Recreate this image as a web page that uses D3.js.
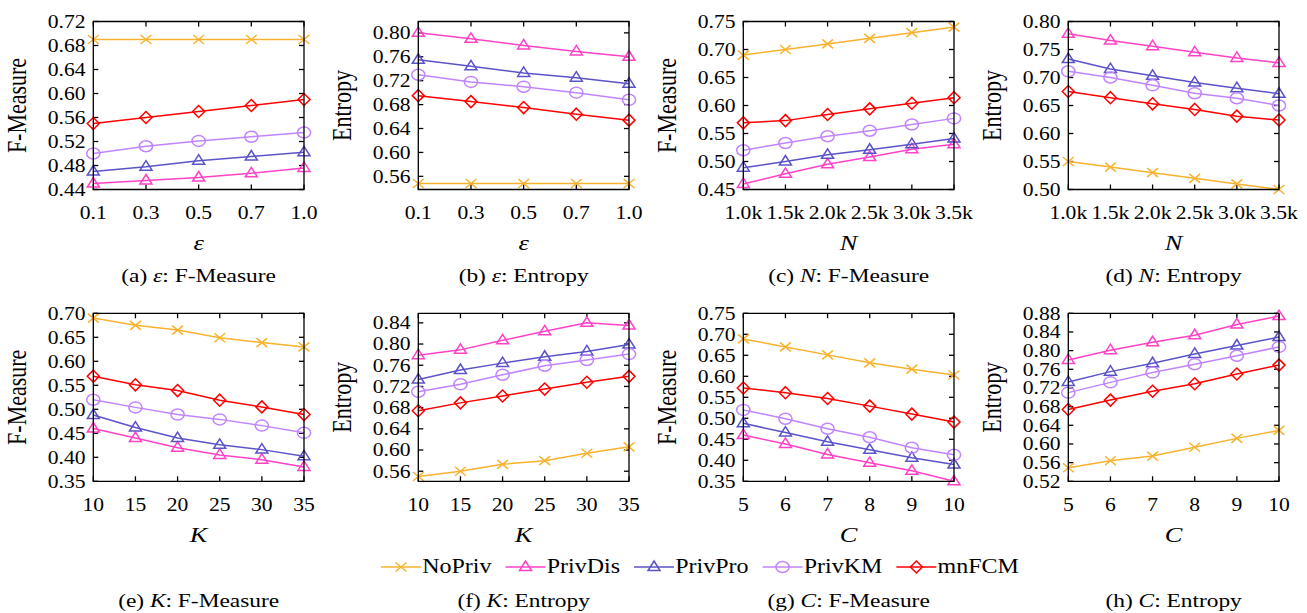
<!DOCTYPE html>
<html lang="en">
<head>
<meta charset="UTF-8">
<title>F-Measure / Entropy</title>
<style>
  body { margin: 0; background: #fff; }
  svg { display: block; }
  text { font-family: "Liberation Serif", "Times New Roman", serif; fill: #000; }
  .frame, .tick { fill: none; stroke: #000; stroke-width: 1.3; vector-effect: non-scaling-stroke; }
  .series, .mark { fill: none; stroke-width: 1.5; vector-effect: non-scaling-stroke; }
</style>
</head>
<body>
<script src="https://d3js.org/d3.v7.min.js"></script>
<script>
const width = 1307, height = 613;
// the original figure is stretched sideways, so draw in a narrower box and stretch it
const stretch = 1.2;
const innerW = width / stretch;

const seriesNames = ["NoPriv", "PrivDis", "PrivPro", "PrivKM", "mnFCM"];
const seriesColors = ["#f9b22e", "#ff42c6", "#5b53c8", "#c184ff", "#ff0000"];
const seriesMarks = ["cross", "triangle", "triangle", "circle", "diamond"];

// x categories
const epsCats = ["0.1", "0.3", "0.5", "0.7", "1.0"];
const nCats = ["1.0k", "1.5k", "2.0k", "2.5k", "3.0k", "3.5k"];
const kCats = ["10", "15", "20", "25", "30", "35"];
const cCats = ["5", "6", "7", "8", "9", "10"];

// y tick labels
const ticksA = [0.44, 0.48, 0.52, 0.56, 0.60, 0.64, 0.68, 0.72];
const ticksB = [0.56, 0.60, 0.64, 0.68, 0.72, 0.76, 0.80];
const ticksC = [0.45, 0.50, 0.55, 0.60, 0.65, 0.70, 0.75];
const ticksD = [0.50, 0.55, 0.60, 0.65, 0.70, 0.75, 0.80];
const ticksE = [0.35, 0.40, 0.45, 0.50, 0.55, 0.60, 0.65, 0.70];
const ticksF = [0.56, 0.60, 0.64, 0.68, 0.72, 0.76, 0.80, 0.84];
const ticksG = [0.35, 0.40, 0.45, 0.50, 0.55, 0.60, 0.65, 0.70, 0.75];
const ticksH = [0.52, 0.56, 0.60, 0.64, 0.68, 0.72, 0.76, 0.80, 0.84, 0.88];

// rows: NoPriv, PrivDis, PrivPro, PrivKM, mnFCM
const epsFMeasure = [
  [0.69, 0.69, 0.69, 0.69, 0.69],
  [0.45, 0.455, 0.46, 0.467, 0.476],
  [0.47, 0.478, 0.488, 0.495, 0.502],
  [0.50, 0.512, 0.521, 0.528, 0.535],
  [0.55, 0.56, 0.57, 0.58, 0.59]
];
const epsEntropy = [
  [0.548, 0.548, 0.548, 0.548, 0.548],
  [0.80, 0.79, 0.779, 0.769, 0.76],
  [0.755, 0.744, 0.733, 0.725, 0.715],
  [0.73, 0.718, 0.71, 0.70, 0.688],
  [0.695, 0.685, 0.675, 0.664, 0.654]
];
const nFMeasure = [
  [0.69, 0.70, 0.71, 0.72, 0.73, 0.74],
  [0.46, 0.478, 0.495, 0.508, 0.522, 0.531],
  [0.489, 0.50, 0.512, 0.521, 0.531, 0.541],
  [0.52, 0.533, 0.545, 0.555, 0.566, 0.577],
  [0.569, 0.573, 0.584, 0.594, 0.604, 0.614]
];
const nEntropy = [
  [0.55, 0.54, 0.53, 0.52, 0.51, 0.50],
  [0.778, 0.766, 0.756, 0.745, 0.735, 0.726],
  [0.733, 0.715, 0.703, 0.691, 0.681, 0.671],
  [0.711, 0.70, 0.686, 0.672, 0.663, 0.65],
  [0.675, 0.664, 0.653, 0.643, 0.631, 0.624]
];
const kFMeasure = [
  [0.69, 0.675, 0.665, 0.649, 0.639, 0.63],
  [0.46, 0.44, 0.42, 0.405, 0.395, 0.38],
  [0.488, 0.462, 0.44, 0.426, 0.416, 0.402],
  [0.52, 0.504, 0.489, 0.479, 0.466, 0.451],
  [0.569, 0.551, 0.539, 0.519, 0.505, 0.489]
];
const kEntropy = [
  [0.55, 0.56, 0.573, 0.58, 0.594, 0.606],
  [0.779, 0.789, 0.807, 0.824, 0.84, 0.835],
  [0.733, 0.751, 0.764, 0.776, 0.786, 0.799],
  [0.71, 0.724, 0.742, 0.759, 0.77, 0.781],
  [0.674, 0.689, 0.702, 0.715, 0.728, 0.739]
];
const cFMeasure = [
  [0.689, 0.67, 0.651, 0.632, 0.617, 0.603],
  [0.46, 0.439, 0.414, 0.394, 0.375, 0.35],
  [0.488, 0.466, 0.444, 0.425, 0.406, 0.39],
  [0.52, 0.499, 0.475, 0.455, 0.43, 0.413],
  [0.572, 0.561, 0.547, 0.529, 0.51, 0.491]
];
const cEntropy = [
  [0.549, 0.564, 0.574, 0.593, 0.612, 0.629],
  [0.78, 0.801, 0.818, 0.833, 0.856, 0.874],
  [0.733, 0.755, 0.773, 0.793, 0.811, 0.829],
  [0.71, 0.732, 0.753, 0.771, 0.789, 0.808],
  [0.674, 0.694, 0.713, 0.729, 0.75, 0.769]
];

const panels = [
  { tag: "(a)", cats: epsCats, data: epsFMeasure, domain: [0.44, 0.72], ticks: ticksA, ylabel: "F-Measure", xvar: "ε", row: 0, col: 0 },
  { tag: "(b)", cats: epsCats, data: epsEntropy, domain: [0.538, 0.819], ticks: ticksB, ylabel: "Entropy", xvar: "ε", row: 0, col: 1 },
  { tag: "(c)", cats: nCats, data: nFMeasure, domain: [0.45, 0.75], ticks: ticksC, ylabel: "F-Measure", xvar: "N", row: 0, col: 2 },
  { tag: "(d)", cats: nCats, data: nEntropy, domain: [0.50, 0.80], ticks: ticksD, ylabel: "Entropy", xvar: "N", row: 0, col: 3 },
  { tag: "(e)", cats: kCats, data: kFMeasure, domain: [0.35, 0.70], ticks: ticksE, ylabel: "F-Measure", xvar: "K", row: 1, col: 0 },
  { tag: "(f)", cats: kCats, data: kEntropy, domain: [0.541, 0.858], ticks: ticksF, ylabel: "Entropy", xvar: "K", row: 1, col: 1 },
  { tag: "(g)", cats: cCats, data: cFMeasure, domain: [0.35, 0.75], ticks: ticksG, ylabel: "F-Measure", xvar: "C", row: 1, col: 2 },
  { tag: "(h)", cats: cCats, data: cEntropy, domain: [0.52, 0.88], ticks: ticksH, ylabel: "Entropy", xvar: "C", row: 1, col: 3 }
];

// layout (x in stretched units)
const colLeft = [93.3, 418.3, 743.3, 1068.3].map(v => v / stretch);
const plotW = 210.7 / stretch;
const rowTop = [21.5, 313.3];
const plotH = 168;
const captionY = [282, 607];
const tickLen = 5;
const tickFont = 18;

const svg = d3.select("body").append("svg")
  .attr("width", width).attr("height", height)
  .attr("viewBox", `0 0 ${innerW} ${height}`)
  .attr("preserveAspectRatio", "none");

function markPath(type) {
  const p = d3.path();
  if (type === "cross") {
    p.moveTo(-4.5, -4.5); p.lineTo(4.5, 4.5);
    p.moveTo(-4.5, 4.5); p.lineTo(4.5, -4.5);
  } else if (type === "triangle") {
    p.moveTo(0, -6); p.lineTo(5, 3.5); p.lineTo(-5, 3.5); p.closePath();
  } else if (type === "diamond") {
    p.moveTo(0, -6); p.lineTo(5, 0); p.lineTo(0, 6); p.lineTo(-5, 0); p.closePath();
  } else {
    p.arc(0, 0, 5.5, 0, 2 * Math.PI);
  }
  return p.toString();
}

const fmt = d3.format(".2f");

panels.forEach(function (pn) {
  const left = colLeft[pn.col], top = rowTop[pn.row];
  const right = left + plotW, bottom = top + plotH;
  const x = d3.scalePoint().domain(pn.cats).range([left, right]);
  const y = d3.scaleLinear().domain(pn.domain).range([bottom, top]);
  const g = svg.append("g");

  // y ticks, mirrored on the right
  pn.ticks.forEach(function (t) {
    g.append("line").attr("class", "tick")
      .attr("x1", left).attr("x2", left + tickLen / stretch).attr("y1", y(t)).attr("y2", y(t));
    g.append("line").attr("class", "tick")
      .attr("x1", right).attr("x2", right - tickLen / stretch).attr("y1", y(t)).attr("y2", y(t));
    g.append("text").attr("x", left - 6.5).attr("y", y(t)).attr("dy", "0.35em")
      .attr("text-anchor", "end").attr("font-size", tickFont).text(fmt(t));
  });
  // x ticks, mirrored on top
  pn.cats.forEach(function (c) {
    g.append("line").attr("class", "tick")
      .attr("x1", x(c)).attr("x2", x(c)).attr("y1", bottom).attr("y2", bottom - tickLen);
    g.append("line").attr("class", "tick")
      .attr("x1", x(c)).attr("x2", x(c)).attr("y1", top).attr("y2", top + tickLen);
    g.append("text").attr("x", x(c)).attr("y", bottom + 30)
      .attr("text-anchor", "middle").attr("font-size", tickFont).text(c);
  });

  const line = d3.line().x((d, i) => x(pn.cats[i])).y(d => y(d));
  pn.data.forEach(function (vals, s) {
    g.append("path").attr("class", "series").attr("d", line(vals)).attr("stroke", seriesColors[s]);
    g.selectAll(null).data(vals).enter().append("path")
      .attr("class", "mark")
      .attr("transform", (d, i) => `translate(${x(pn.cats[i])},${y(d)})`)
      .attr("d", markPath(seriesMarks[s]))
      .attr("stroke", seriesColors[s]);
  });

  g.append("rect").attr("class", "frame")
    .attr("x", left).attr("y", top).attr("width", plotW).attr("height", plotH);

  // axis titles
  g.append("text")
    .attr("transform", `translate(${left - 56},${(top + bottom) / 2}) rotate(-90)`)
    .attr("text-anchor", "middle").attr("font-size", 22).text(pn.ylabel);
  g.append("text").attr("x", (left + right) / 2).attr("y", bottom + 61)
    .attr("text-anchor", "middle").attr("font-size", 22).attr("font-style", "italic").text(pn.xvar);

  // caption
  const cap = g.append("text").attr("x", (left + right) / 2).attr("y", captionY[pn.row])
    .attr("text-anchor", "middle").attr("font-size", 19.5);
  cap.append("tspan").text(pn.tag + " ");
  cap.append("tspan").attr("font-style", "italic").text(pn.xvar);
  cap.append("tspan").text(": " + pn.ylabel);
});

// legend, laid out inline
const legendY = 567;
let lx = 381 / stretch;
seriesNames.forEach(function (name, s) {
  const lg = svg.append("g");
  const sampleW = 40 / stretch;
  lg.append("line").attr("class", "series").attr("stroke", seriesColors[s])
    .attr("x1", lx).attr("x2", lx + sampleW).attr("y1", legendY).attr("y2", legendY);
  lg.append("path").attr("class", "mark").attr("stroke", seriesColors[s])
    .attr("transform", `translate(${lx + sampleW / 2},${legendY})`)
    .attr("d", markPath(seriesMarks[s]));
  const t = lg.append("text").attr("x", lx + sampleW + 1).attr("y", legendY + 6.5)
    .attr("font-size", 20).text(name);
  lx += sampleW + 1 + t.node().getComputedTextLength() + 14 / stretch;
});
</script>
</body>
</html>
